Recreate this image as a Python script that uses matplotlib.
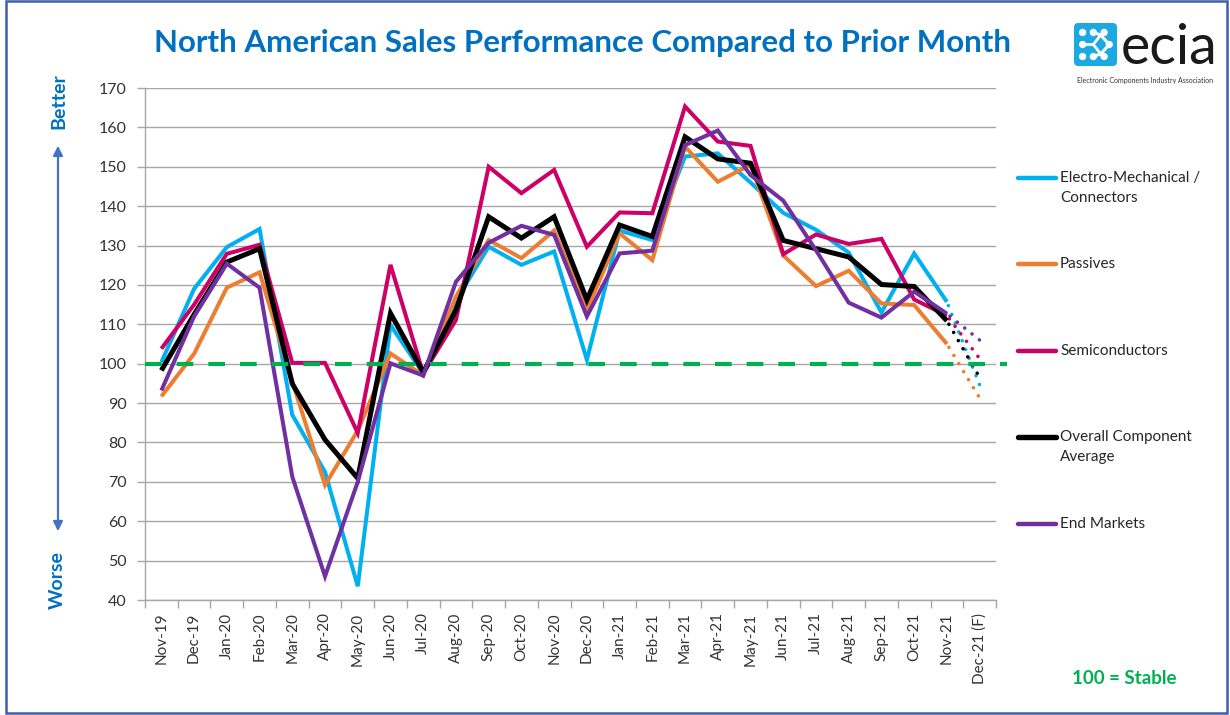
import matplotlib
matplotlib.use("Agg")
import matplotlib.pyplot as plt
from matplotlib.lines import Line2D
from matplotlib.patches import Rectangle, FancyBboxPatch, Circle, FancyArrowPatch

months = ["Nov-19", "Dec-19", "Jan-20", "Feb-20", "Mar-20", "Apr-20", "May-20",
          "Jun-20", "Jul-20", "Aug-20", "Sep-20", "Oct-20", "Nov-20", "Dec-20",
          "Jan-21", "Feb-21", "Mar-21", "Apr-21", "May-21", "Jun-21", "Jul-21",
          "Aug-21", "Sep-21", "Oct-21", "Nov-21", "Dec-21 (F)"]

electro = [100.4, 119.0, 129.6, 134.2, 87.0, 72.5, 43.5, 109.8, 97.5, 116.0,
           129.7, 125.1, 128.5, 101.0, 133.8, 131.4, 152.6, 153.4, 146.0, 138.3,
           134.0, 128.2, 113.0, 128.0, 115.7, 94.6]
passives = [91.7, 102.5, 119.3, 123.2, 95.5, 69.2, 83.0, 102.6, 97.0, 117.0,
            131.4, 126.8, 133.8, 113.6, 133.1, 126.3, 155.1, 146.2, 150.5, 127.5,
            119.7, 123.6, 115.3, 114.9, 105.0, 91.3]
semis = [103.8, 115.0, 127.9, 130.2, 100.2, 100.2, 82.4, 125.1, 97.5, 111.1,
         150.0, 143.3, 149.2, 129.7, 138.4, 138.2, 165.3, 156.4, 155.3, 127.8,
         132.8, 130.4, 131.7, 116.3, 112.2, 101.3]
overall = [98.3, 112.5, 125.8, 129.2, 94.9, 80.7, 70.9, 112.8, 97.8, 113.6,
           137.3, 131.9, 137.3, 116.2, 135.2, 132.3, 157.6, 152.0, 150.9, 131.3,
           129.2, 127.1, 120.1, 119.6, 110.9, 96.5]
end_markets = [93.2, 112.0, 125.4, 119.3, 71.3, 46.0, 70.0, 100.1, 97.0, 120.8,
               130.7, 135.0, 132.7, 112.0, 128.0, 128.7, 155.5, 159.2, 147.9, 141.4,
               128.8, 115.5, 111.7, 118.3, 112.7, 106.0]

series_names = ["Electro-Mechanical /\nConnectors", "Passives", "Semiconductors",
                "Overall Component\nAverage", "End Markets"]
series_vals = [electro, passives, semis, overall, end_markets]
colors = ["#00B0F0", "#ED7D31", "#CC0066", "#000000", "#7030A0"]
widths = [2.9, 2.9, 2.9, 3.6, 2.9]

plt.rcParams["font.family"] = ["Lato", "DejaVu Sans"]
TXT = "#333333"

fig = plt.figure(figsize=(12.3, 7.15), dpi=100)
ax = fig.add_axes([145 / 1230, 1 - 600 / 715, 851 / 1230, 512 / 715])

x = list(range(len(months)))
n_actual = len(months) - 1
for vals, c, lw in zip(series_vals, colors, widths):
    ax.plot(x[:n_actual], vals[:n_actual], color=c, lw=lw, solid_joinstyle="miter",
            solid_capstyle="butt", zorder=3)
    # forecast month as a dotted segment
    ax.plot(x[n_actual - 1:], vals[n_actual - 1:], color=c, lw=2.6,
            linestyle=(1.5, (0.01, 2.6)), dash_capstyle="round", zorder=3)

# 100 = stable reference
ax.plot([0, 1.013], [100, 100], transform=ax.get_yaxis_transform(), color="#00B050",
        lw=3.0, linestyle=(0, (4.0, 3.6)), dash_capstyle="butt", clip_on=False, zorder=5)

ax.set_xlim(-0.5, len(months) - 0.5)
ax.set_ylim(40, 170)
ax.set_yticks(range(40, 171, 10))
ax.set_xticks(x)
ax.set_xticklabels(months, rotation=90, fontsize=11, color=TXT)
ax.set_xticks([i - 0.5 for i in range(len(months) + 1)], minor=True)
ax.tick_params(axis="x", which="major", length=0, pad=9)
ax.tick_params(axis="x", which="minor", length=6, width=1, color="#A6A6A6")
ax.tick_params(axis="y", length=6, width=1, color="#A6A6A6", labelsize=11.5,
               labelcolor=TXT, pad=7)
ax.grid(axis="y", color="#A6A6A6", lw=1)
ax.set_axisbelow(True)
for s in ["top", "right"]:
    ax.spines[s].set_visible(False)
for s in ["left", "bottom"]:
    ax.spines[s].set_color("#A6A6A6")
    ax.spines[s].set_linewidth(1)

# title
fig.text(582 / 1230, 1 - 43 / 715, "North American Sales Performance Compared to Prior Month",
         ha="center", va="center", fontsize=22.5, fontweight="bold", color="#0070C0")

# better / worse
fig.text(59 / 1230, 1 - 101 / 715, "Better", rotation=90, ha="center", va="center",
         fontsize=14, fontweight="bold", color="#0070C0")
fig.text(57 / 1230, 1 - 580 / 715, "Worse", rotation=90, ha="center", va="center",
         fontsize=14, fontweight="bold", color="#0070C0")
fig.add_artist(FancyArrowPatch((58 / 1230, 1 - 534 / 715), (58 / 1230, 1 - 143 / 715),
                               transform=fig.transFigure, arrowstyle="<|-|>",
                               mutation_scale=14, color="#4472C4", lw=1.6))

# legend, drawn by hand so the handle sits on the first text line
leg_y = [178, 264, 351, 437, 524]
for name, c, lw, yy in zip(series_names, colors, widths, leg_y):
    fy = 1 - yy / 715
    fig.add_artist(Line2D([1018 / 1230, 1056 / 1230], [fy, fy], color=c, lw=lw + 0.3,
                          solid_capstyle="round", transform=fig.transFigure))
    for k, line in enumerate(name.split("\n")):
        fig.text(1060 / 1230, 1 - (yy + 20 * k) / 715, line, ha="left", va="center",
                 fontsize=11, color="#262626")

fig.text(1124 / 1230, 1 - 679 / 715, "100 = Stable", ha="center", va="center",
         fontsize=13.5, fontweight="bold", color="#00B050")

# ecia logo mark
lax = fig.add_axes([1074 / 1230, 1 - 66 / 715, 43 / 1230, 43 / 715])
lax.set_xlim(0, 1)
lax.set_ylim(0, 1)
lax.axis("off")
lax.add_patch(FancyBboxPatch((0, 0), 1, 1, boxstyle="round,pad=0,rounding_size=0.1",
                             fc="#1CA9E1", ec="none"))
lax.plot([0.45, 0.62, 0.82, 0.62, 0.45], [0.78, 0.72, 0.5, 0.28, 0.22], color="white", lw=2.2)
lax.plot([0.2, 0.45, 0.62], [0.5, 0.5, 0.72], color="white", lw=2.0)
lax.plot([0.45, 0.62], [0.5, 0.28], color="white", lw=2.0)
for dx, dy in [(0.2, 0.78), (0.45, 0.78), (0.7, 0.78), (0.2, 0.5), (0.82, 0.5),
               (0.2, 0.22), (0.45, 0.22), (0.7, 0.22)]:
    lax.add_patch(Circle((dx, dy), 0.085, fc="white", ec="none"))

fig.text(1121 / 1230, 1 - 64 / 715, "ecia", ha="left", va="baseline", fontsize=40,
         color="#1A1A1A")
fig.text(1145 / 1230, 1 - 80 / 715, "Electronic Components Industry Association",
         ha="center", va="center", fontsize=5, color="#333333")

# outer frame
fig.add_artist(Rectangle((6 / 1230, 2 / 715), 1221 / 1230, 712 / 715, transform=fig.transFigure,
                         fill=False, ec="#3F5FAA", lw=1.8))

fig.savefig("out.png", dpi=100)
